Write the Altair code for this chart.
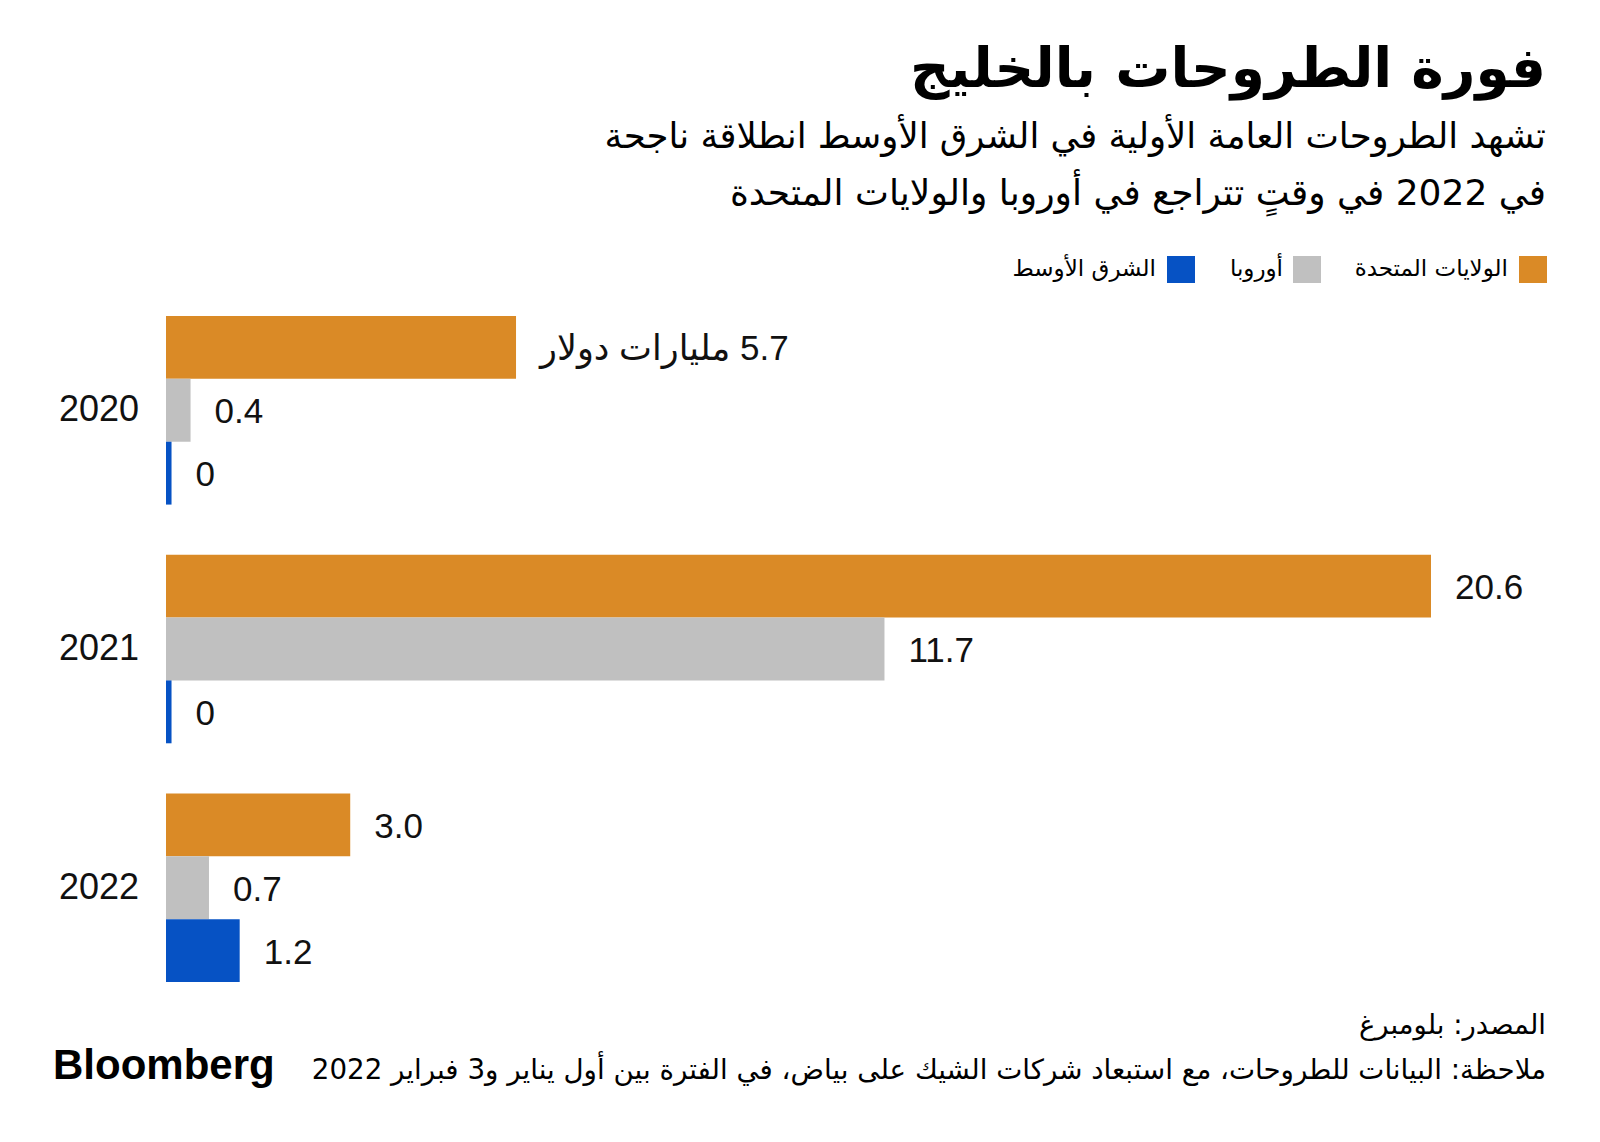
import altair as alt
import pandas as pd

# ---- data ----
years = ["2020", "2021", "2022"]
regions = ["الولايات المتحدة", "أوروبا", "الشرق الأوسط"]
colors = ["#DA8A26", "#C0C0C0", "#0652C4"]
us_values = [5.7, 20.6, 3.0]
europe_values = [0.4, 11.7, 0.7]
mideast_values = [0.0, 0.0, 1.2]
us_labels = ["مليارات دولار \u200e5.7", "20.6", "3.0"]
europe_labels = ["0.4", "11.7", "0.7"]
mideast_labels = ["0", "0", "1.2"]

title = "فورة الطروحات بالخليج"
subtitle1 = "تشهد الطروحات العامة الأولية في الشرق الأوسط انطلاقة ناجحة"
subtitle2 = "في 2022 في وقتٍ تتراجع في أوروبا والولايات المتحدة"
source = "المصدر: بلومبرغ"
note = "ملاحظة: البيانات للطروحات، مع استبعاد شركات الشيك على بياض، في الفترة بين أول يناير و3 فبراير 2022"
brand = "Bloomberg"

AR = "DejaVu Sans"
NUM = "Liberation Sans, DejaVu Sans"

rows = []
for i, y in enumerate(years):
    for reg, vals, labs in zip(regions, [us_values, europe_values, mideast_values],
                               [us_labels, europe_labels, mideast_labels]):
        rows.append({"year": y, "region": reg, "value": vals[i], "label": labs[i]})
df = pd.DataFrame(rows)

W, H = 1265, 666
xscale = alt.Scale(domain=[0, 20.6], nice=False, zero=True)
yenc = alt.Y("year:N", sort=years, axis=None,
             scale=alt.Scale(paddingInner=0.21, paddingOuter=0))
yoff = alt.YOffset("region:N", sort=regions,
                   scale=alt.Scale(paddingInner=0, paddingOuter=0))
cenc = alt.Color("region:N", sort=regions, legend=None,
                 scale=alt.Scale(domain=regions, range=colors))

base = alt.Chart(df).transform_calculate(xd="max(datum.value, 0.09)")

bars = base.mark_bar(cornerRadius=0).encode(
    x=alt.X("xd:Q", scale=xscale, axis=None),
    x2=alt.X2(datum=0),
    y=yenc, yOffset=yoff, color=cenc,
)

vals = base.mark_text(align="left", baseline="middle", dx=24, dy=2, font=NUM,
                      fontSize=35, color="#111").encode(
    x=alt.X("xd:Q", scale=xscale, axis=None),
    y=yenc, yOffset=yoff, text="label:N",
)

yearlab = alt.Chart(pd.DataFrame({"year": years})).mark_text(
    align="right", baseline="middle", font=NUM, fontSize=36, color="#111"
).encode(x=alt.value(-27), y=yenc, text="year:N")


def txt(t, x, y, size, weight="normal", font=AR, align="right", baseline="alphabetic"):
    return alt.Chart(pd.DataFrame({"t": [t]})).mark_text(
        align=align, baseline=baseline, font=font, fontSize=size,
        fontWeight=weight, color="#000"
    ).encode(x=alt.value(x), y=alt.value(y), text="t:N")


def sq(x, y, c):
    return alt.Chart(pd.DataFrame({"t": [0]})).mark_rect(color=c).encode(
        x=alt.value(x), x2=alt.value(x + 28), y=alt.value(y), y2=alt.value(y + 27))


layers = [
    bars, vals, yearlab,
    txt(title, 1380, -229, 55, weight="bold"),
    txt(subtitle1, 1380, -168, 35.5),
    txt(subtitle2, 1380, -111, 36),
    sq(1353, -60, colors[0]), txt(regions[0], 1342, -47, 23, baseline="middle"),
    sq(1127, -60, colors[1]), txt(regions[1], 1117, -47, 23, baseline="middle"),
    sq(1001, -60, colors[2]), txt(regions[2], 990, -47, 23, baseline="middle"),
    txt(source, 1380, 718, 27.5),
    txt(note, 1380, 763, 27.7),
    txt(brand, -113, 763, 42, weight="bold", font="Liberation Sans", align="left"),
]

chart = alt.layer(*layers).properties(
    width=W, height=H,
    autosize=alt.AutoSizeParams(type="none"),
    padding={"left": 158, "top": 308, "right": 161, "bottom": 152},
    background="white",
).configure_view(stroke=None)

chart.save("out.html", embed_options={"renderer": "svg", "actions": False})
